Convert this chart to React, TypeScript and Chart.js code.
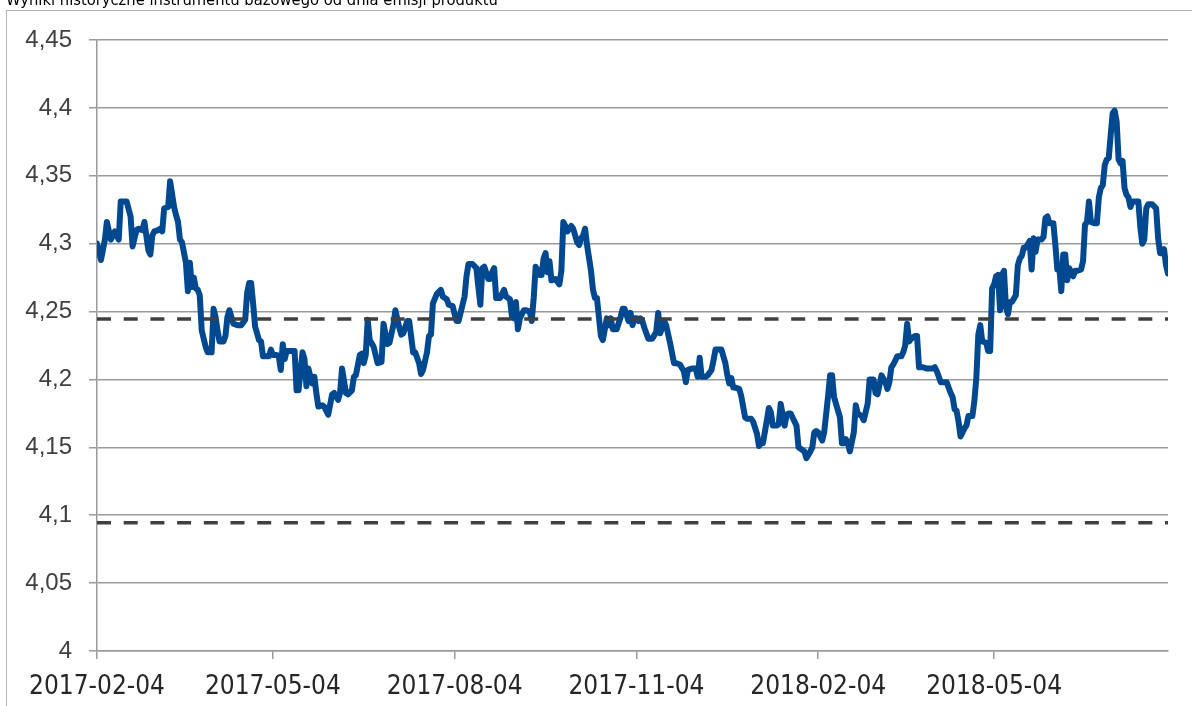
import React, { useEffect, useRef } from "react";
import { Chart, registerables } from "chart.js";

Chart.register(...registerables);

const TITLE = "Wyniki historyczne instrumentu bazowego od dnia emisji produktu";
const START_DATE = "2017-02-04";
const X_MAX_DAY = 542;

// days since START_DATE
const days = [
  0, 2, 4, 5, 7, 8, 9, 11, 12, 15, 17, 18, 20, 21, 23, 24, 26, 27, 28, 29, 31, 32, 33, 34, 36, 37, 39, 40, 41, 42, 43, 45, 46, 47, 48, 49, 50, 51, 52, 53, 55, 56, 58, 59, 60, 61, 62, 64, 65, 66, 67, 68, 69, 71, 73, 75, 76, 77, 78, 79, 80, 82, 83, 84, 85, 87, 88, 89, 91, 92, 93, 94, 95, 96, 98, 100, 101, 102, 104, 105, 106, 107, 108, 109, 110, 111, 112, 114, 115, 117, 119, 120, 122, 123, 124, 126, 127, 129, 130, 131, 133, 134, 135, 136, 137, 138, 140,
  142, 144, 145, 147, 148, 150, 151, 153, 154, 155, 157, 158, 160, 161, 163, 164, 165, 167, 168, 169, 170, 172, 174, 175, 177, 178, 180, 181, 182, 183, 184, 186, 187, 188, 190, 192, 193, 194, 195, 196, 198, 199, 200, 201, 202, 204, 205, 206, 207, 209, 210, 211, 212, 213, 214, 216, 217, 219, 220, 221, 222, 224, 225, 226, 227, 228, 229, 230, 232, 234, 235, 236, 237, 238, 240, 241, 243, 244, 245, 246, 247, 248, 250, 251, 252, 253, 254, 255, 256, 258, 259, 260, 261, 263, 265, 266, 267, 269, 270, 271, 272, 273, 274, 275,
  276, 277, 279, 281, 283, 284, 285, 287, 288, 290, 292, 293, 295, 297, 298, 299, 301, 303, 304, 305, 306, 308, 309, 311, 312, 313, 315, 316, 318, 319, 320, 321, 322, 323, 325, 326, 328, 329, 331, 332, 334, 335, 336, 337, 339, 340, 341, 342, 344, 345, 346, 348, 349, 350, 351, 352, 354, 355, 357, 358, 359, 361, 362, 363, 364, 365, 367, 368, 370, 371, 372, 373, 375, 376, 377, 378, 379, 380, 381, 383, 384, 385, 387, 388, 390, 391, 393, 394, 395, 396, 397, 399, 400, 401, 402, 403, 405, 407, 408, 409, 410, 411, 412, 414, 415, 416,
  418, 420, 423, 424, 425, 427, 428, 430, 432, 433, 434, 435, 436, 437, 439, 440, 441, 443, 444, 445, 446, 447, 448, 450, 451, 452, 453, 454, 455, 456, 457, 458, 459, 460, 461, 462, 463, 465, 466, 467, 468, 469, 470, 472, 473, 474, 475, 476, 478, 479, 480, 481, 482, 484, 485, 486, 487, 488, 489, 490, 491, 492, 494, 495, 496, 498, 499, 500, 501, 502, 503, 505, 506, 507, 508, 509, 510, 511, 512, 513, 514, 515, 516, 517, 518, 519, 520, 521, 522, 523, 524, 526, 527, 528, 529, 530, 531, 532, 534, 536, 537, 538, 539, 540, 541, 542,
];

const values = [
  4.300, 4.288, 4.303, 4.316, 4.303, 4.306, 4.309, 4.303, 4.331, 4.331, 4.320, 4.298, 4.310, 4.311, 4.310, 4.316, 4.295, 4.292, 4.306, 4.309, 4.310, 4.311, 4.309, 4.326, 4.327, 4.346, 4.327, 4.321, 4.316, 4.303, 4.301, 4.286, 4.265, 4.286, 4.268, 4.275, 4.267, 4.266, 4.262, 4.236, 4.224, 4.220, 4.220, 4.252, 4.246, 4.236, 4.228, 4.228, 4.232, 4.246, 4.251, 4.246, 4.241, 4.240, 4.240, 4.244, 4.264, 4.271, 4.271, 4.256, 4.239, 4.229, 4.228, 4.217, 4.217, 4.217, 4.222, 4.218, 4.218, 4.217, 4.207, 4.226, 4.215, 4.221, 4.221, 4.221, 4.192, 4.192, 4.220, 4.215, 4.195, 4.208, 4.202, 4.197, 4.202, 4.190, 4.180, 4.181, 4.180, 4.174, 4.189, 4.190, 4.185, 4.190, 4.208, 4.190, 4.189, 4.192, 4.202, 4.203, 4.218, 4.219, 4.212, 4.218, 4.244, 4.229, 4.224,
  4.212, 4.213, 4.241, 4.226, 4.227, 4.240, 4.251, 4.238, 4.233, 4.234, 4.243, 4.243, 4.220, 4.220, 4.212, 4.204, 4.207, 4.220, 4.232, 4.233, 4.256, 4.263, 4.266, 4.261, 4.259, 4.255, 4.254, 4.248, 4.243, 4.243, 4.249, 4.261, 4.276, 4.285, 4.285, 4.282, 4.268, 4.255, 4.282, 4.283, 4.274, 4.274, 4.279, 4.282, 4.260, 4.260, 4.263, 4.266, 4.261, 4.259, 4.246, 4.245, 4.257, 4.237, 4.245, 4.251, 4.251, 4.250, 4.243, 4.260, 4.283, 4.277, 4.277, 4.289, 4.293, 4.279, 4.287, 4.273, 4.274, 4.270, 4.280, 4.316, 4.313, 4.309, 4.313, 4.311, 4.301, 4.299, 4.304, 4.306, 4.311, 4.299, 4.280, 4.266, 4.260, 4.260, 4.246, 4.232, 4.229, 4.245, 4.240, 4.245, 4.237, 4.237, 4.246, 4.252, 4.252, 4.243, 4.249, 4.240, 4.245, 4.245, 4.243, 4.245,
  4.243, 4.238, 4.230, 4.230, 4.235, 4.249, 4.234, 4.243, 4.240, 4.227, 4.212, 4.212, 4.211, 4.206, 4.198, 4.207, 4.208, 4.208, 4.202, 4.216, 4.202, 4.202, 4.203, 4.207, 4.214, 4.222, 4.222, 4.222, 4.212, 4.203, 4.197, 4.201, 4.194, 4.194, 4.193, 4.188, 4.172, 4.171, 4.171, 4.169, 4.160, 4.151, 4.153, 4.153, 4.170, 4.179, 4.176, 4.166, 4.166, 4.167, 4.182, 4.166, 4.174, 4.175, 4.175, 4.172, 4.166, 4.150, 4.148, 4.147, 4.142, 4.147, 4.150, 4.161, 4.162, 4.161, 4.155, 4.161, 4.188, 4.203, 4.203, 4.187, 4.177, 4.172, 4.153, 4.153, 4.156, 4.153, 4.147, 4.161, 4.181, 4.175, 4.173, 4.170, 4.182, 4.200, 4.200, 4.190, 4.189, 4.196, 4.203, 4.198, 4.193, 4.198, 4.209, 4.211, 4.217, 4.217, 4.220, 4.225, 4.241, 4.228, 4.230, 4.232, 4.232, 4.209,
  4.209, 4.208, 4.208, 4.209, 4.206, 4.198, 4.198, 4.198, 4.190, 4.187, 4.178, 4.177, 4.169, 4.158, 4.164, 4.166, 4.173, 4.173, 4.184, 4.201, 4.233, 4.240, 4.228, 4.227, 4.221, 4.221, 4.267, 4.270, 4.276, 4.277, 4.251, 4.277, 4.280, 4.253, 4.248, 4.257, 4.257, 4.262, 4.284, 4.289, 4.291, 4.297, 4.297, 4.302, 4.281, 4.304, 4.294, 4.303, 4.303, 4.305, 4.319, 4.320, 4.315, 4.315, 4.299, 4.281, 4.282, 4.265, 4.292, 4.292, 4.273, 4.282, 4.276, 4.280, 4.280, 4.281, 4.287, 4.314, 4.316, 4.331, 4.316, 4.315, 4.315, 4.334, 4.341, 4.343, 4.358, 4.362, 4.363, 4.380, 4.396, 4.398, 4.390, 4.362, 4.359, 4.361, 4.341, 4.336, 4.334, 4.327, 4.331, 4.331, 4.331, 4.312, 4.300, 4.303, 4.326, 4.329, 4.329, 4.326, 4.304, 4.293, 4.293, 4.296, 4.284, 4.278,
];

const xTickDays = [0, 89, 181, 273, 365, 454];
const xTickLabels = ["2017-02-04", "2017-05-04", "2017-08-04", "2017-11-04", "2018-02-04", "2018-05-04"];
const yTickValues = [4, 4.05, 4.1, 4.15, 4.2, 4.25, 4.3, 4.35, 4.4, 4.45];
const yTickLabels = ["4", "4,05", "4,1", "4,15", "4,2", "4,25", "4,3", "4,35", "4,4", "4,45"];

const upperLevel = 4.2445;
const lowerLevel = 4.0945;

const NARROW = '"Liberation Sans Narrow", "DejaVu Sans Condensed", "Roboto Condensed", sans-serif';

const framePlugin = {
  id: "framePlugin",
  beforeDraw(chart: any) {
    const ctx = chart.ctx;
    ctx.save();
    ctx.strokeStyle = "#b4b4b4";
    ctx.lineWidth = 1;
    ctx.strokeRect(6.5, 10.5, 1300, 800);
    ctx.fillStyle = "#000000";
    ctx.font = `16.4px ${NARROW}`;
    ctx.textBaseline = "alphabetic";
    ctx.textAlign = "left";
    ctx.fillText(TITLE, 6, 5);
    ctx.restore();
  },
};

export default function App() {
  const ref = useRef<HTMLCanvasElement | null>(null);

  useEffect(() => {
    document.body.style.margin = "0";
    if (!ref.current) return;
    const linePts = days.map((d, i) => ({ x: d, y: values[i] }));
    const upper = [{ x: 0, y: upperLevel }, { x: X_MAX_DAY, y: upperLevel }];
    const lower = [{ x: 0, y: lowerLevel }, { x: X_MAX_DAY, y: lowerLevel }];
    const chart = new Chart(ref.current, {
      type: "line",
      data: {
        datasets: [
          {
            data: upper,
            borderColor: "#404040",
            borderWidth: 3.5,
            borderDash: [14, 12.7],
            pointRadius: 0,
            fill: false,
          },
          {
            data: lower,
            borderColor: "#404040",
            borderWidth: 3.5,
            borderDash: [14, 12.7],
            pointRadius: 0,
            fill: false,
          },
          {
            data: linePts,
            borderColor: "#004990",
            borderWidth: 6,
            pointRadius: 0,
            tension: 0,
            borderJoinStyle: "round",
            borderCapStyle: "round",
            fill: false,
          },
        ],
      },
      options: {
        animation: false,
        responsive: false,
        devicePixelRatio: 1,
        layout: { padding: { left: 0, top: 40, right: 24, bottom: 0 } },
        plugins: { legend: { display: false }, tooltip: { enabled: false }, title: { display: false } },
        scales: {
          x: {
            type: "linear",
            min: 0,
            max: X_MAX_DAY,
            afterBuildTicks: (axis: any) => {
              axis.ticks = xTickDays.map((v) => ({ value: v }));
            },
            afterFit: (scale: any) => {
              scale.height = 55;
            },
            ticks: {
              autoSkip: false,
              maxRotation: 0,
              minRotation: 0,
              padding: 13,
              color: "#262626",
              font: { family: NARROW, size: 26 },
              callback: (v: any) => {
                const i = xTickDays.indexOf(Number(v));
                return i >= 0 ? xTickLabels[i] : "";
              },
            },
            grid: { drawOnChartArea: false, drawTicks: true, tickLength: 8, color: "#9a9a9a", lineWidth: 1.5 },
            border: { display: true, color: "#9a9a9a", width: 1.5 },
          },
          y: {
            min: 4,
            max: 4.45,
            afterBuildTicks: (axis: any) => {
              axis.ticks = yTickValues.map((v) => ({ value: v }));
            },
            afterFit: (scale: any) => {
              scale.width = 97;
            },
            ticks: {
              padding: 17,
              color: "#404040",
              font: { family: '"Liberation Sans", Arial, sans-serif', size: 24 },
              callback: (v: any) => {
                const i = Math.round((Number(v) - 4) / 0.05);
                return yTickLabels[i] ?? "";
              },
            },
            grid: { drawTicks: true, tickLength: 8, color: "#9a9a9a", lineWidth: 1.5 },
            border: { display: true, color: "#9a9a9a", width: 1.5 },
          },
        },
      },
      plugins: [framePlugin],
    });
    return () => chart.destroy();
  }, []);

  return (
    <div style={{ position: "absolute", left: 0, top: 0, width: 1192, height: 706, overflow: "hidden", background: "#ffffff" }}>
      <canvas ref={ref} width={1192} height={706} style={{ display: "block" }} />
    </div>
  );
}
